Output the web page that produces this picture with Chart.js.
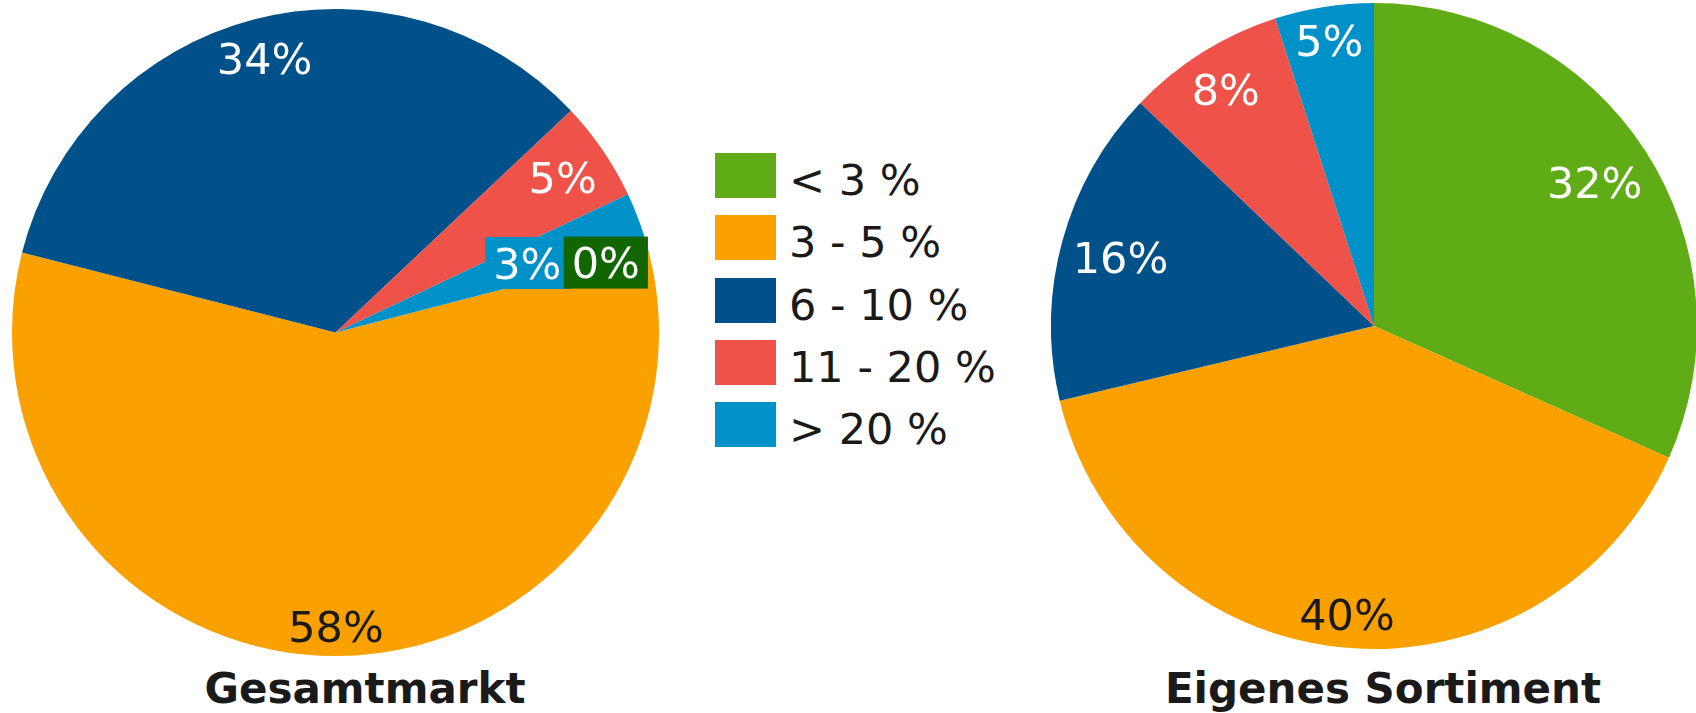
<!DOCTYPE html>
<html lang="de">
<head>
<meta charset="utf-8">
<title>Gesamtmarkt / Eigenes Sortiment</title>
<script src="https://cdn.jsdelivr.net/npm/chart.js@4.4.1/dist/chart.umd.min.js"></script>
<style>
    html, body {
        margin: 0;
        padding: 0;
        background: #fff;
    }
    body {
        width: 1696px;
        height: 713px;
        position: relative;
        overflow: hidden;
        font-family: "DejaVu Sans", Verdana, sans-serif;
        color: #1a1a1a;
    }
    canvas {
        position: absolute;
    }
    #pie-left { left: 12px; top: 9px; }
    #pie-right { left: 1051px; top: 3px; }
    .pie-title {
        position: absolute;
        width: 600px;
        top: 664px;
        font-size: 42px;
        line-height: 50px;
        font-weight: bold;
        text-align: center;
    }
    #legend {
        position: absolute;
        left: 715px;
        top: 153px;
    }
    .legend-item {
        display: flex;
        align-items: flex-start;
        height: 62.25px;
    }
    .legend-swatch {
        width: 61px;
        height: 45px;
        margin-right: 13px;
    }
    .legend-text {
        font-size: 43px;
        line-height: 50px;
        margin-top: 2px;
        white-space: pre;
    }
</style>
</head>
<body>
<canvas id="pie-left" width="647" height="647"></canvas>
<canvas id="pie-right" width="646" height="646"></canvas>
<div id="legend"></div>
<div class="pie-title" style="left: 65px;">Gesamtmarkt</div>
<div class="pie-title" style="left: 1083px;">Eigenes Sortiment</div>

<script>
// Margin classes, shared by both pies
const categories = ['< 3 %', '3 - 5 %', '6 - 10 %', '11 - 20 %', '> 20 %'];

// Share of products per margin class (%)
const gesamtmarktValues = [0, 58, 34, 5, 3];
const sortimentValues = [32, 40, 16, 8, 5];

// Colours
const sliceColors = ['#60ac17', '#faa100', '#005089', '#ee5249', '#0091c8'];
const labelTextColors = ['#ffffff', '#1a1a1a', '#ffffff', '#ffffff', '#ffffff'];
const zeroBoxColor = '#116600';

// Build the legend between the two pies
const legendEl = document.getElementById('legend');
categories.forEach((cat, i) => {
    const item = document.createElement('div');
    item.className = 'legend-item';
    const swatch = document.createElement('div');
    swatch.className = 'legend-swatch';
    swatch.style.background = sliceColors[i];
    const text = document.createElement('span');
    text.className = 'legend-text';
    text.textContent = cat;
    item.appendChild(swatch);
    item.appendChild(text);
    legendEl.appendChild(item);
});

// Percent labels near the outer edge of each slice; slices too narrow
// for their text get a filled box, and colliding labels are pushed inwards
const sliceLabels = {
    id: 'sliceLabels',
    afterDatasetsDraw(chart, args, opts) {
        const ctx = chart.ctx;
        const meta = chart.getDatasetMeta(0);
        const values = chart.data.datasets[0].data;
        ctx.save();
        ctx.font = opts.font;

        const placed = [];
        meta.data.forEach((arc, i) => {
            const p = arc.getProps(['x', 'y', 'startAngle', 'endAngle', 'outerRadius'], true);
            const mid = (p.startAngle + p.endAngle) / 2;
            const text = values[i] + '%';
            const tw = ctx.measureText(text).width;
            const boxed = (p.endAngle - p.startAngle) < opts.minArc;
            const w = boxed ? tw + 2 * opts.boxPadX : tw;
            const h = boxed ? opts.boxHeight : opts.textHeight;
            const ux = Math.cos(mid);
            const uy = Math.sin(mid);
            const proj = Math.abs(ux) * w / 2 + Math.abs(uy) * h / 2;
            let d = p.outerRadius - (boxed ? opts.boxInset : opts.textInset) - proj;

            const overlapAt = (dist) => {
                const cx = p.x + ux * dist;
                const cy = p.y + uy * dist;
                let worst = 0;
                placed.forEach(b => {
                    const ox = Math.min(cx + w / 2, b.x + b.w / 2) - Math.max(cx - w / 2, b.x - b.w / 2);
                    const oy = Math.min(cy + h / 2, b.y + b.h / 2) - Math.max(cy - h / 2, b.y - b.h / 2);
                    worst = Math.max(worst, Math.min(ox, oy));
                });
                return worst;
            };
            while (d > 0 && overlapAt(d) > opts.maxOverlap) {
                d -= 1;
            }

            placed.push({
                x: p.x + ux * d,
                y: p.y + uy * d,
                w: w,
                h: h,
                text: text,
                boxed: boxed,
                fill: values[i] === 0 ? zeroBoxColor : sliceColors[i],
                color: labelTextColors[i]
            });
        });

        // later slices first, so the first one ends up on top
        placed.slice().reverse().forEach(b => {
            if (b.boxed) {
                ctx.fillStyle = b.fill;
                ctx.fillRect(b.x - b.w / 2, b.y - b.h / 2, b.w, b.h);
            }
            ctx.fillStyle = b.color;
            ctx.textAlign = 'center';
            ctx.textBaseline = 'alphabetic';
            ctx.fillText(b.text, b.x, b.y + opts.capHeight / 2);
        });
        ctx.restore();
    }
};

function makePie(canvasId, values, rotation) {
    const ctx = document.getElementById(canvasId).getContext('2d');
    return new Chart(ctx, {
        type: 'pie',
        data: {
            labels: categories,
            datasets: [{
                data: values,
                backgroundColor: sliceColors,
                borderWidth: 0
            }]
        },
        options: {
            responsive: false,
            animation: false,
            events: [],
            rotation: rotation,
            layout: { padding: 0 },
            plugins: {
                legend: { display: false },
                tooltip: { enabled: false },
                sliceLabels: {
                    font: '43px "DejaVu Sans", Verdana, sans-serif',
                    capHeight: 31,
                    textHeight: 40,
                    textInset: 9,
                    boxHeight: 52,
                    boxPadX: 8,
                    boxInset: -3,
                    minArc: 15 * Math.PI / 180,
                    maxOverlap: 6
                }
            }
        },
        plugins: [sliceLabels]
    });
}

makePie('pie-left', gesamtmarktValues, 75.5);
makePie('pie-right', sortimentValues, 0);
</script>
</body>
</html>
